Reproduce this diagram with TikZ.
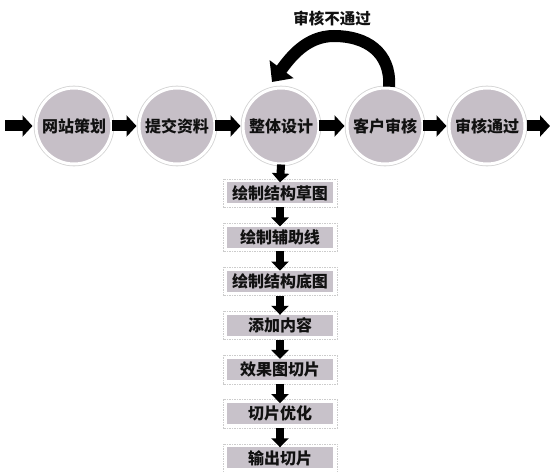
\documentclass[tikz,border=0pt]{standalone}
\usepackage{fontspec}
\newfontfamily\cjk{Noto Sans CJK SC}
\usetikzlibrary{arrows.meta,calc}
\definecolor{circfill}{HTML}{C6BFC7}
\definecolor{boxfill}{HTML}{C8C2CA}
\definecolor{ink}{HTML}{111111}
\tikzset{
  stagecirc/.style={circle, minimum size=76pt, inner sep=0pt, fill=circfill,
    draw=white, line width=3pt, preaction={draw=gray!35, line width=4.6pt},
    font=\cjk\bfseries\fontsize{16pt}{18pt}\selectfont, text=ink},
  stepbox/.style={rectangle, minimum width=106pt, minimum height=21pt, inner sep=0pt,
    fill=boxfill, font=\cjk\bfseries\fontsize{16pt}{18pt}\selectfont, text=ink},
  boxframe/.style={draw=gray!40, line width=0.5pt, dash pattern=on 1.5pt off 1pt},
  harrow/.style={draw=black, line width=11pt, -{Triangle[length=10pt,width=21pt]}},
  varrow/.style={draw=black, line width=8pt, -{Triangle[length=9pt,width=17pt]}},
  backarrow/.style={draw=black, line width=12pt, -{Triangle[length=16pt,width=29pt]}},
}
\begin{document}
\begin{tikzpicture}[x=1pt,y=1pt]
\useasboundingbox (0,0) rectangle (550,472);
% stages
\node[stagecirc] (c1) at (74,346) {网站策划};
\node[stagecirc] (c2) at (177,346) {提交资料};
\node[stagecirc] (c3) at (281,346) {整体设计};
\node[stagecirc] (c4) at (385,346) {客户审核};
\node[stagecirc] (c5) at (487,346) {审核通过};
\coordinate (hs) at (5,346);
\coordinate (he) at (550,346);
% horizontal arrows
\draw[harrow, shorten >=2pt] (hs) -- (c1.west);
\draw[harrow, shorten <=-2pt, shorten >=1pt] (c1.east) -- (c2.west);
\draw[harrow, shorten <=-2pt, shorten >=1pt] (c2.east) -- (c3.west);
\draw[harrow, shorten <=-2pt, shorten >=1pt] (c3.east) -- (c4.west);
\draw[harrow, shorten <=-2pt, shorten >=1pt] (c4.east) -- (c5.west);
\draw[harrow] (c5.east) -- (he);
% loop back
\node[font=\cjk\bfseries\fontsize{15.5pt}{17pt}\selectfont, text=ink] (lbl) at (332,453) {审核不通过};
\coordinate (peak) at (334,436);
\coordinate (tip) at (272,390);
\draw[backarrow] (c4.84) .. controls (391,420) and (366,436) .. (peak)
  .. controls (306,436) and (290,414) .. (tip);
% vertical steps
\foreach \i/\t in {1/绘制结构草图,2/绘制辅助线,3/绘制结构底图,4/添加内容,5/效果图切片,6/切片优化,7/输出切片}{
  \node[stepbox] (b\i) at (280,{279-44.1667*(\i-1)}) {\t};
  \draw[boxframe] ($(b\i.south west)+(-4,-3.5)$) rectangle ($(b\i.north east)+(4,3.5)$);
}
\draw[varrow, shorten <=-1pt] (c3.south) -- (b1.north);
\foreach \i [evaluate=\i as \j using int(\i+1)] in {1,...,6}{
  \draw[varrow, shorten <=3.5pt] (b\i.south) -- (b\j.north);
}
\end{tikzpicture}
\end{document}
